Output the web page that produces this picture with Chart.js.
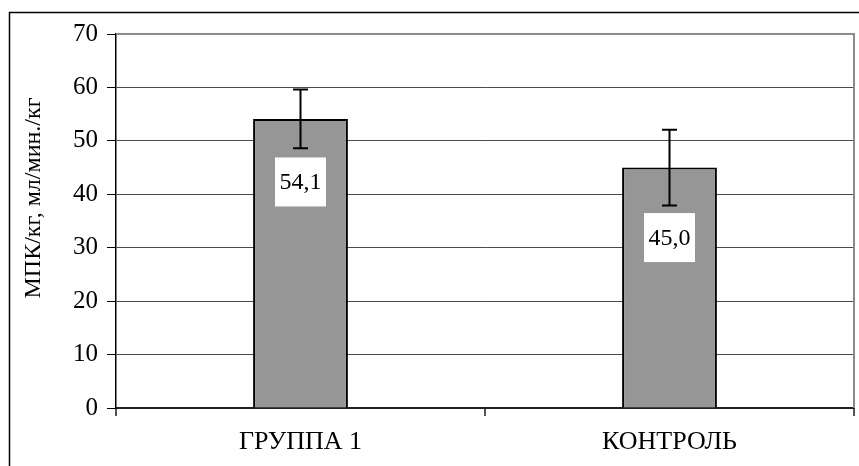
<!DOCTYPE html>
<html>
<head>
<meta charset="utf-8">
<script src="https://cdn.jsdelivr.net/npm/chart.js@4/dist/chart.umd.min.js"></script>
<style>
  html, body { margin: 0; padding: 0; background: #ffffff; }
  canvas { display: block; }
</style>
</head>
<body>
<canvas id="c" width="859" height="466"></canvas>
<script>
// Groups and mean VO2max per kg with standard deviation
const categories = ['ГРУППА 1', 'КОНТРОЛЬ'];
const means = [54.1, 45.0];
const deviations = [5.5, 7.1];
const valueLabels = ['54,1', '45,0'];
const yTicks = [0, 10, 20, 30, 40, 50, 60, 70];
const yTitle = 'МПК/кг, мл/мин./кг';

const FONT = '"Liberation Serif", "Times New Roman", Times, serif';

// Frame around the whole chart and border of the plotting area
const framePlugin = {
  id: 'frame',
  beforeDraw(chart) {
    const ctx = chart.ctx;
    ctx.save();
    ctx.fillStyle = '#ffffff';
    ctx.fillRect(0, 0, chart.width, chart.height);
    ctx.strokeStyle = '#000000';
    ctx.lineWidth = 1.5;
    ctx.strokeRect(9.5, 12.5, chart.width + 20, chart.height + 20);
    ctx.restore();
  },
  beforeDatasetsDraw(chart) {
    const ctx = chart.ctx;
    const a = chart.chartArea;
    ctx.save();
    ctx.strokeStyle = '#8c8c8c';
    ctx.lineWidth = 2;
    ctx.beginPath();
    ctx.moveTo(a.left, a.top);
    ctx.lineTo(a.right, a.top);
    ctx.lineTo(a.right, a.bottom);
    ctx.stroke();
    ctx.restore();
  },
  afterDraw(chart) {
    // rotated axis title
    const ctx = chart.ctx;
    ctx.save();
    ctx.translate(34, 198);
    ctx.rotate(-Math.PI / 2);
    ctx.fillStyle = '#000000';
    ctx.font = '24px ' + FONT;
    ctx.textAlign = 'center';
    ctx.textBaseline = 'middle';
    ctx.fillText(yTitle, 0, 0);
    ctx.restore();
  }
};

// Error bars and boxed value labels on each bar
const barExtrasPlugin = {
  id: 'barExtras',
  afterDatasetsDraw(chart, args, opts) {
    const ctx = chart.ctx;
    const y = chart.scales.y;
    const meta = chart.getDatasetMeta(0);
    ctx.save();
    meta.data.forEach((bar, i) => {
      const x = bar.x;
      // boxed value label
      const cy = bar.y + opts.labelOffsets[i];
      ctx.fillStyle = '#ffffff';
      ctx.fillRect(x - 25.5, cy - 24.5, 51, 49);
      ctx.fillStyle = '#000000';
      ctx.font = '24px ' + FONT;
      ctx.textAlign = 'center';
      ctx.textBaseline = 'middle';
      ctx.fillText(valueLabels[i], x, cy + 1);
      // error bar
      const hi = y.getPixelForValue(means[i] + deviations[i]);
      const lo = y.getPixelForValue(means[i] - deviations[i]);
      ctx.strokeStyle = '#000000';
      ctx.lineWidth = 2;
      ctx.beginPath();
      ctx.moveTo(x, hi); ctx.lineTo(x, lo);
      ctx.moveTo(x - 7.5, hi); ctx.lineTo(x + 7.5, hi);
      ctx.moveTo(x - 7.5, lo); ctx.lineTo(x + 7.5, lo);
      ctx.stroke();
    });
    ctx.restore();
  }
};

function build() {
  new Chart(document.getElementById('c'), {
    type: 'bar',
    data: {
      labels: categories,
      datasets: [{
        data: means,
        backgroundColor: '#969696',
        borderColor: '#000000',
        borderWidth: 2,
        borderSkipped: 'bottom',
        barPercentage: 0.257,
        categoryPercentage: 1.0
      }]
    },
    options: {
      responsive: false,
      animation: false,
      devicePixelRatio: 1,
      layout: { padding: { left: 0, right: 5, top: 34, bottom: 0 } },
      plugins: {
        legend: { display: false },
        tooltip: { enabled: false },
        barExtras: { labelOffsets: [63, 70] }
      },
      scales: {
        x: {
          offset: true,
          grid: {
            offset: true,
            drawOnChartArea: false,
            drawTicks: true,
            tickLength: 8,
            tickColor: '#555555',
            lineWidth: 2
          },
          border: { color: '#222222', width: 2 },
          ticks: {
            color: '#000000',
            font: { family: FONT, size: 26 },
            padding: 11
          },
          afterFit(scale) { scale.height = 58; }
        },
        y: {
          min: 0,
          max: 70,
          afterBuildTicks(scale) { scale.ticks = yTicks.map(v => ({ value: v })); },
          grid: {
            color: '#4a4a4a',
            lineWidth: 1,
            drawTicks: true,
            tickLength: 9,
            tickColor: '#000000'
          },
          border: { color: '#000000', width: 1.5 },
          ticks: {
            color: '#000000',
            font: { family: FONT, size: 25 },
            padding: 9
          },
          afterFit(scale) { scale.width = 116; }
        }
      }
    },
    plugins: [framePlugin, barExtrasPlugin]
  });
}

const fontLoads = [
  document.fonts.load('24px "Liberation Serif"', 'МПК 0123'),
  document.fonts.load('26px "Liberation Serif"', 'ГРУППА КОНТРОЛЬ')
];
Promise.all(fontLoads).then(build, build);
</script>
</body>
</html>
